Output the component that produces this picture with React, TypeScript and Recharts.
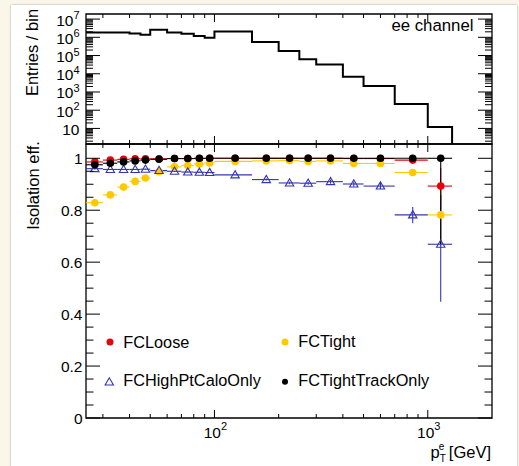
import React from "react";
import { ComposedChart, Line, Scatter, ErrorBar, XAxis, YAxis, ReferenceArea } from "recharts";

// electron pT spectrum (entries per bin), bin edges in GeV
const histEdges = [25, 40, 45, 50, 60, 70, 80, 90, 100, 150, 200, 250, 300, 400, 500, 700, 1000, 1300, 2000];
const histCounts = [1.86e6, 1.63e6, 1.37e6, 2.6e6, 1.86e6, 1.55e6, 1.17e6, 9.4e5, 2.1e6, 5.5e5, 1.8e5, 6.2e4, 3.2e4, 6.8e3, 2.1e3, 220, 12, 0];

// efficiency binning
const binLow = [25, 30, 35, 40, 45, 50, 60, 70, 80, 90, 100, 150, 200, 250, 300, 400, 500, 700, 1000];
const binHigh = [30, 35, 40, 45, 50, 60, 70, 80, 90, 100, 150, 200, 250, 300, 400, 500, 700, 1000, 1300];
const ptCenter = [27.5, 32.5, 37.5, 42.5, 47.5, 55, 65, 75, 85, 95, 125, 175, 225, 275, 350, 450, 600, 850, 1150];

const effLoose = [0.986, 0.993, 0.996, 0.998, 0.998, 0.998, 0.999, 0.999, 0.999, 1.0, 1.0, 1.0, 1.0, 1.0, 1.0, 0.999, 0.999, 0.993, 0.893];
const effTight = [0.829, 0.859, 0.889, 0.911, 0.924, 0.948, 0.967, 0.972, 0.978, 0.982, 0.988, 0.99, 0.991, 0.988, 0.99, 0.98, 0.98, 0.945, 0.782];
const effCalo = [0.96, 0.957, 0.957, 0.957, 0.958, 0.953, 0.95, 0.947, 0.946, 0.945, 0.936, 0.918, 0.905, 0.904, 0.91, 0.901, 0.893, 0.782, 0.669];
const effTrack = [0.975, 0.981, 0.986, 0.99, 0.993, 0.996, 0.999, 0.999, 1.0, 1.0, 1.0, 1.0, 1.0, 1.0, 1.0, 1.0, 1.0, 1.0, 1.0];

// [down, up] uncertainties
const errLoose = [[0.002, 0.002], [0.002, 0.002], [0.001, 0.001], [0.001, 0.001], [0.001, 0.001], [0.001, 0.001], [0.001, 0.001], [0.001, 0.001], [0.001, 0.001], [0.001, 0], [0.001, 0], [0.001, 0], [0.001, 0], [0.001, 0], [0.001, 0], [0.002, 0.001], [0.003, 0.001], [0.006, 0.004], [0.09, 0.07]];
const errTight = [[0.003, 0.003], [0.003, 0.003], [0.003, 0.003], [0.002, 0.002], [0.002, 0.002], [0.002, 0.002], [0.002, 0.002], [0.002, 0.002], [0.002, 0.002], [0.002, 0.002], [0.001, 0.001], [0.002, 0.002], [0.002, 0.002], [0.003, 0.003], [0.003, 0.003], [0.005, 0.005], [0.006, 0.006], [0.012, 0.011], [0.12, 0.1]];
const errCalo = [[0.003, 0.003], [0.002, 0.002], [0.002, 0.002], [0.002, 0.002], [0.002, 0.002], [0.002, 0.002], [0.002, 0.002], [0.002, 0.002], [0.002, 0.002], [0.002, 0.002], [0.001, 0.001], [0.004, 0.004], [0.005, 0.005], [0.006, 0.006], [0.008, 0.008], [0.01, 0.01], [0.012, 0.012], [0.032, 0.03], [0.221, 0.19]];
const errTrack = [[0.002, 0.002], [0.002, 0.002], [0.001, 0.001], [0.001, 0.001], [0.001, 0.001], [0.001, 0.001], [0.001, 0], [0.001, 0], [0.001, 0], [0.001, 0], [0.001, 0], [0.001, 0], [0.001, 0], [0.002, 0], [0.002, 0], [0.003, 0], [0.004, 0], [0.01, 0], [0.33, 0]];

const histDecades = [10, 100, 1e3, 1e4, 1e5, 1e6, 1e7];
const histMinorSteps = [2, 3, 4, 5, 6, 7, 8, 9];
const ptTicks = [30, 40, 50, 60, 70, 80, 90, 100, 200, 300, 400, 500, 600, 700, 800, 900, 1000];
const ptLabelled = [100, 1000];
const effTicks = [0, 0.05, 0.1, 0.15, 0.2, 0.25, 0.3, 0.35, 0.4, 0.45, 0.5, 0.55, 0.6, 0.65, 0.7, 0.75, 0.8, 0.85, 0.9, 0.95, 1];

const FONT = '"Liberation Sans", Arial, Helvetica, sans-serif';
const X_DOMAIN: [number, number] = [25, 2000];
const HIST_DOMAIN: [number, number] = [1.4, 1.9e7];
const EFF_DOMAIN: [number, number] = [0, 1.055];
const HIST_FLOOR = 1; // empty bins sit below the axis

const PLOT_W = 406;
const TOP_H = 130;
const BOT_H = 274;

const RED = "#e8000a";
const YELLOW = "#ffc900";
const BLUE = "#3535b0";

const histData = histEdges.map((x, i) => ({
  x,
  y: Math.max(histCounts[Math.min(i, histCounts.length - 1)], HIST_FLOOR),
}));

const histTicks = [1, ...histDecades.slice(0, -1)]
  .flatMap((d) => histMinorSteps.map((s) => s * d))
  .concat(histDecades)
  .filter((v) => v >= HIST_DOMAIN[0] && v <= HIST_DOMAIN[1])
  .sort((a, b) => a - b);

const series = [
  { name: "FCLoose", eff: effLoose, err: errLoose, color: RED, marker: "dot" },
  { name: "FCTight", eff: effTight, err: errTight, color: YELLOW, marker: "dot" },
  { name: "FCHighPtCaloOnly", eff: effCalo, err: errCalo, color: BLUE, marker: "tri" },
  { name: "FCTightTrackOnly", eff: effTrack, err: errTrack, color: "#000", marker: "dot" },
];

const seriesData = series.map((s) =>
  ptCenter.map((x, i) => ({
    x,
    y: s.eff[i],
    ex: [x - binLow[i], binHigh[i] - x],
    ey: s.err[i],
  }))
);

function Marker({ cx, cy, color, marker, r = 3.8 }: any) {
  if (marker === "tri") {
    return (
      <polygon
        points={`${cx},${cy - 4.2} ${cx - 4.2},${cy + 3} ${cx + 4.2},${cy + 3}`}
        fill="none"
        stroke={color}
        strokeWidth={1.1}
      />
    );
  }
  return <circle cx={cx} cy={cy} r={r} fill={color} />;
}

function HistYTick({ x, y, payload }: any) {
  const v = payload.value;
  const lg = Math.log10(v);
  const exp = Math.round(lg);
  const major = Math.abs(lg - exp) < 1e-6;
  const len = major ? 14 : 7;
  return (
    <g>
      <line x1={x} x2={x + len} y1={y} y2={y} stroke="#000" strokeWidth={1} />
      <line x1={x + PLOT_W} x2={x + PLOT_W - len} y1={y} y2={y} stroke="#000" strokeWidth={1} />
      {major && (
        <text x={x - 6.5} y={y + 6.5} textAnchor="end" fontSize={15.5} fontFamily={FONT} fill="#000">
          10
          {exp > 1 && (
            <tspan dy={-6.5} fontSize={11}>
              {exp}
            </tspan>
          )}
        </text>
      )}
    </g>
  );
}

function EffYTick({ x, y, payload }: any) {
  const v = payload.value;
  const major = Math.abs(v * 5 - Math.round(v * 5)) < 1e-6;
  const len = major ? 14 : 7.5;
  const label = v === 0 ? "0" : v === 1 ? "1" : v.toFixed(1);
  return (
    <g>
      <line x1={x} x2={x + len} y1={y} y2={y} stroke="#000" strokeWidth={1} />
      <line x1={x + PLOT_W} x2={x + PLOT_W - len} y1={y} y2={y} stroke="#000" strokeWidth={1} />
      {major && (
        <text x={x - 3.5} y={y + 5.5} textAnchor="end" fontSize={15.5} fontFamily={FONT} fill="#000">
          {label}
        </text>
      )}
    </g>
  );
}

function PtTick({ x, y, payload, plotH, labels }: any) {
  const v = payload.value;
  const major = ptLabelled.includes(v);
  const len = major ? 8 : 4;
  return (
    <g>
      <line x1={x} x2={x} y1={y} y2={y - len} stroke="#000" strokeWidth={1} />
      <line x1={x} x2={x} y1={y - plotH} y2={y - plotH + len} stroke="#000" strokeWidth={1} />
      {labels && major && (
        <text x={x + 1} y={y + 20} textAnchor="middle" fontSize={15.5} fontFamily={FONT} fill="#000">
          10
          <tspan dy={-8} fontSize={11}>
            {Math.round(Math.log10(v))}
          </tspan>
        </text>
      )}
    </g>
  );
}

function Overlay() {
  const txt = { fontFamily: FONT, fill: "#000" };
  return (
    <svg width={519} height={466} style={{ position: "absolute", left: 0, top: 0, pointerEvents: "none" }}>
      <text {...txt} fontSize={16.5} transform="translate(37.5,52.5) rotate(-90)" textAnchor="middle">
        Entries / bin
      </text>
      <text {...txt} fontSize={16.5} transform="translate(39,185.5) rotate(-90)" textAnchor="middle">
        Isolation eff.
      </text>
      <text {...txt} fontSize={16.8} x={473.5} y={30.7} textAnchor="end">
        ee channel
      </text>
      <text {...txt} fontSize={16.5} x={491} y={458} textAnchor="end">
        p
        <tspan dy={4} fontSize={10}>T</tspan>
        <tspan dx={-6} dy={-12} fontSize={10}>e</tspan>
        <tspan dy={8}> [GeV]</tspan>
      </text>
      {/* legend */}
      <Marker cx={110} cy={342} color={RED} marker="dot" r={3.5} />
      <text {...txt} fontSize={16.3} x={123.3} y={347.7}>FCLoose</text>
      <Marker cx={285} cy={342} color={YELLOW} marker="dot" r={3.5} />
      <text {...txt} fontSize={16.3} x={298.3} y={347}>FCTight</text>
      <Marker cx={109.3} cy={382} color={BLUE} marker="tri" />
      <text {...txt} fontSize={16.3} x={123.3} y={386}>FCHighPtCaloOnly</text>
      <Marker cx={285} cy={381.7} color="#000" marker="dot" r={3} />
      <text {...txt} fontSize={16.3} x={298.3} y={386}>FCTightTrackOnly</text>
    </svg>
  );
}

export default function App() {
  return (
    <div style={{ position: "absolute", left: 0, top: 0, width: 519, height: 466, background: "#faf6ea", overflow: "hidden" }}>
      <div
        style={{
          position: "absolute",
          left: 11,
          top: 5,
          width: 506,
          height: 470,
          background: "#fff",
          boxShadow: "0 0 2px rgba(0,0,0,0.35)",
        }}
      />
      <div style={{ position: "absolute", left: 0, top: 0 }}>
        <ComposedChart width={519} height={150} data={histData} margin={{ top: 14, right: 27, bottom: 5, left: 85 }}>
          <XAxis
            dataKey="x"
            type="number"
            scale="log"
            domain={X_DOMAIN}
            allowDataOverflow
            ticks={ptTicks}
            interval={0}
            height={1}
            axisLine={false}
            tickLine={false}
            tickSize={0}
            tickMargin={0}
            tick={(p: any) => <PtTick {...p} plotH={TOP_H} labels={false} />}
          />
          <YAxis
            type="number"
            scale="log"
            domain={HIST_DOMAIN}
            allowDataOverflow
            ticks={histTicks}
            interval={0}
            width={1}
            axisLine={false}
            tickLine={false}
            tickSize={0}
            tickMargin={0}
            tick={(p: any) => <HistYTick {...p} />}
          />
          <ReferenceArea x1={X_DOMAIN[0]} x2={X_DOMAIN[1]} y1={HIST_DOMAIN[0]} y2={HIST_DOMAIN[1]} fill="none" stroke="#000" strokeWidth={1.3} />
          <Line dataKey="y" type="stepAfter" stroke="#000" strokeWidth={2} dot={false} isAnimationActive={false} />
        </ComposedChart>
      </div>
      <div style={{ position: "absolute", left: 0, top: 136 }}>
        <ComposedChart width={519} height={330} margin={{ top: 8, right: 27, bottom: 47, left: 85 }}>
          <XAxis
            dataKey="x"
            type="number"
            scale="log"
            domain={X_DOMAIN}
            allowDataOverflow
            ticks={ptTicks}
            interval={0}
            height={1}
            axisLine={false}
            tickLine={false}
            tickSize={0}
            tickMargin={0}
            tick={(p: any) => <PtTick {...p} plotH={BOT_H} labels />}
          />
          <YAxis
            dataKey="y"
            type="number"
            domain={EFF_DOMAIN}
            allowDataOverflow
            ticks={effTicks}
            interval={0}
            width={1}
            axisLine={false}
            tickLine={false}
            tickSize={0}
            tickMargin={0}
            tick={(p: any) => <EffYTick {...p} />}
          />
          <ReferenceArea x1={X_DOMAIN[0]} x2={X_DOMAIN[1]} y1={EFF_DOMAIN[0]} y2={EFF_DOMAIN[1]} fill="none" stroke="#000" strokeWidth={1.3} />
          {series.map((s, k) => (
            <Scatter
              key={s.name}
              name={s.name}
              data={seriesData[k]}
              dataKey="y"
              isAnimationActive={false}
              shape={(p: any) => <Marker cx={p.cx} cy={p.cy} color={s.color} marker={s.marker} />}
            >
              <ErrorBar dataKey="ex" direction="x" width={0} stroke={s.color} strokeWidth={1.1} isAnimationActive={false} />
              <ErrorBar dataKey="ey" direction="y" width={0} stroke={s.color} strokeWidth={1.1} isAnimationActive={false} />
            </Scatter>
          ))}
        </ComposedChart>
      </div>
      <Overlay />
    </div>
  );
}
